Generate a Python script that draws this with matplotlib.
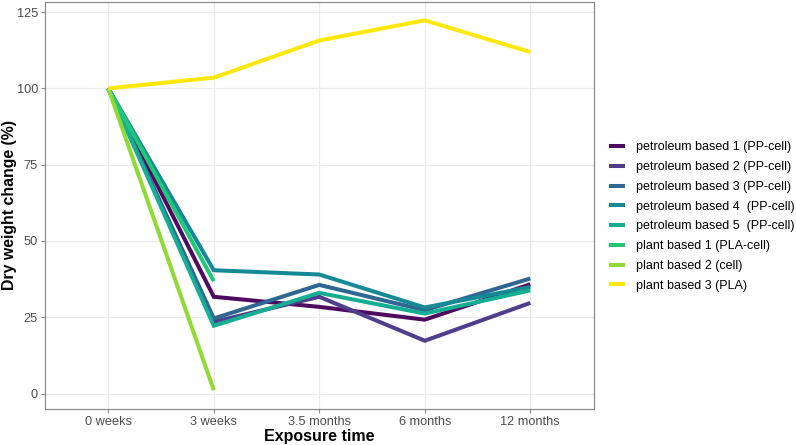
import matplotlib
matplotlib.use("Agg")
import matplotlib.pyplot as plt

plt.rcParams['font.family'] = ['Liberation Sans', 'DejaVu Sans']

times = ["0 weeks", "3 weeks", "3.5 months", "6 months", "12 months"]

labels = [
    "petroleum based 1 (PP-cell)",
    "petroleum based 2 (PP-cell)",
    "petroleum based 3 (PP-cell)",
    "petroleum based 4  (PP-cell)",
    "petroleum based 5  (PP-cell)",
    "plant based 1 (PLA-cell)",
    "plant based 2 (cell)",
    "plant based 3 (PLA)",
]
colors = ["#4E0A5E", "#4E3E8C", "#2F6692", "#158A96", "#16AE93",
          "#20C777", "#8FDA35", "#FDE80A"]

pp1 = [100, 31.7, 28.4, 24.2, 35.8]
pp2 = [100, 23.5, 31.7, 17.3, 29.7]
pp3 = [100, 24.6, 35.6, 27.3, 37.7]
pp4 = [100, 40.4, 39.0, 28.2, 34.9]
pp5 = [100, 22.2, 33.0, 26.2, 33.8]
pl1 = [100, 36.8]
pl2 = [100, 1.1]
pl3 = [100, 103.5, 115.7, 122.3, 111.9]
series = [pp1, pp2, pp3, pp4, pp5, pl1, pl2, pl3]

fig = plt.figure(figsize=(7.96, 4.45), dpi=100)
ax = fig.add_axes([45/796, 36/445, 548.6/796, 407.3/445])

for vals, lab, col in zip(series, labels, colors):
    ax.plot(range(len(vals)), vals, color=col, lw=2.9, label=lab,
            solid_capstyle='butt', solid_joinstyle='miter')

ax.set_xlim(-0.6, 4.6)
ax.set_ylim(-5.07, 128.4)
ax.set_xticks(range(len(times)))
ax.set_xticklabels(times)
ax.set_yticks([0, 25, 50, 75, 100, 125])
ax.grid(True, color='#ebebeb', lw=0.9)
ax.set_axisbelow(True)
for s in ax.spines.values():
    s.set_color('#8c8c8c')
    s.set_linewidth(0.9)
ax.tick_params(axis='both', colors='#8c8c8c', labelcolor='#4d4d4d',
               labelsize=9.2, length=3, width=0.8, pad=2)
ax.set_xlabel("Exposure time", fontsize=11.5, fontweight='bold', labelpad=1)

fig.text(10/796, 1 - 205/445, "Dry weight change (%)", fontsize=11.4,
         fontweight='bold', rotation=90, ha='center', va='center')

leg = fig.legend(loc='center left', bbox_to_anchor=(609/796, 1 - 216.5/445),
                 frameon=False, fontsize=9.0, handlelength=1.3,
                 handletextpad=0.85, labelspacing=0.62, borderpad=0,
                 borderaxespad=0)
for h in leg.get_lines():
    h.set_linewidth(2.9)

fig.savefig("out.png", dpi=100)
